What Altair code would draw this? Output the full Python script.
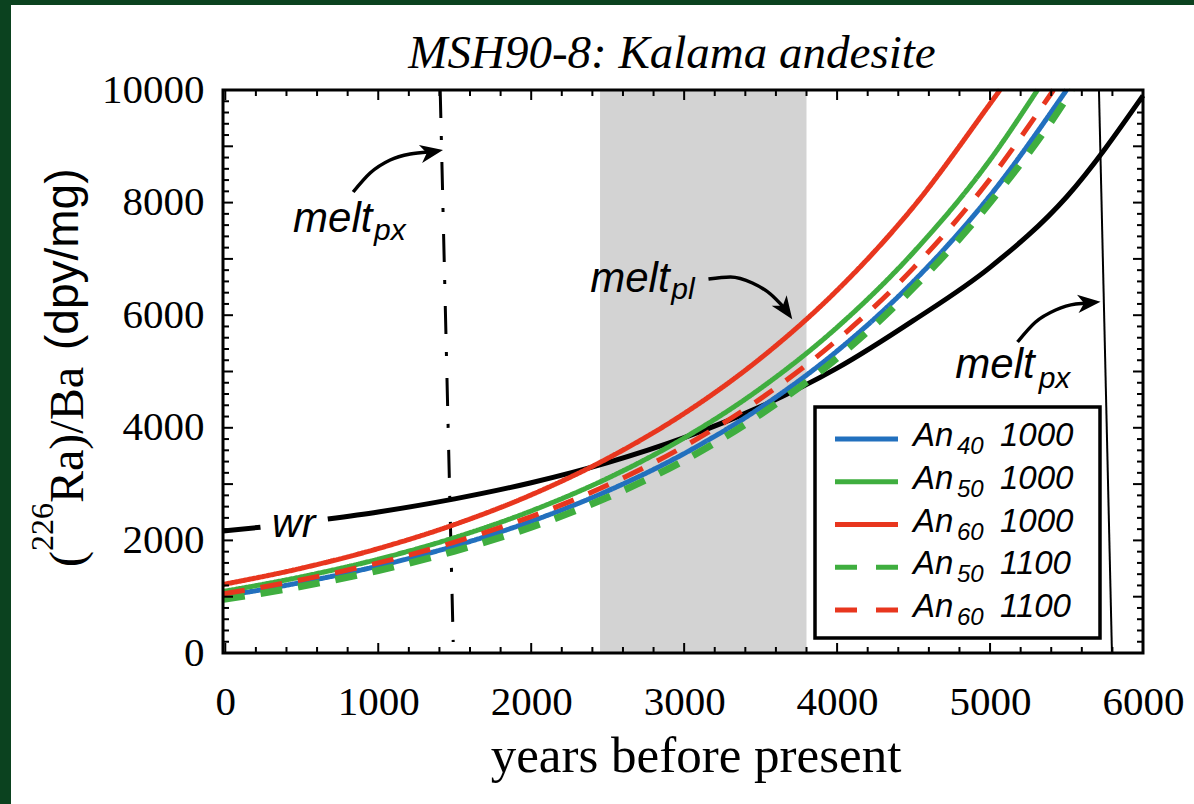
import altair as alt
import pandas as pd

# ---------------- data ----------------
title_text = "MSH90-8: Kalama andesite"
x_title_text = "years before present"
x_tick_values = [0, 1000, 2000, 3000, 4000, 5000, 6000]
y_tick_values = [0, 2000, 4000, 6000, 8000, 10000]

series_names = ["An40 1000", "An50 1000", "An60 1000", "An50 1100", "An60 1100"]
legend_sub = ["40", "50", "60", "50", "60"]
legend_temp = ["1000", "1000", "1000", "1100", "1100"]

an40_1000_x = [-15, 0, 500, 1000, 1500, 2000, 2500, 3000, 3500, 4000, 4500, 5000, 5500]
an40_1000_y = [1014, 1020, 1255, 1545, 1901, 2339, 2879, 3542, 4359, 5364, 6601, 8123, 10000]
an50_1000_x = [-15, 0, 500, 1000, 1500, 2000, 2500, 3000, 3500, 4000, 4500, 5000, 5310]
an50_1000_y = [1093, 1100, 1354, 1666, 2050, 2523, 3104, 3820, 4701, 5785, 7119, 8760, 10000]
an60_1000_x = [-15, 0, 500, 1000, 1500, 2000, 2500, 3000, 3500, 4000, 4500, 5000, 5065]
an60_1000_y = [1217, 1225, 1507, 1855, 2283, 2809, 3457, 4254, 5236, 6442, 7928, 9756, 10000]
an50_1100_x = [-15, 0, 500, 1000, 1500, 2000, 2500, 3000, 3500, 4000, 4500, 5000, 5500, 5535]
an50_1100_y = [954, 960, 1185, 1465, 1810, 2235, 2765, 3420, 4240, 5240, 6490, 8000, 9850, 10000]
an60_1100_x = [-15, 0, 500, 1000, 1500, 2000, 2500, 3000, 3500, 4000, 4500, 5000, 5415]
an60_1100_y = [1050, 1057, 1301, 1601, 1970, 2424, 2983, 3671, 4518, 5559, 6841, 8418, 10000]

wr_left_x = [-15, 230]
wr_left_y = [2165, 2235]
wr_right_x = [670, 1000, 1500, 2000, 2500, 3000, 3500, 4000, 4500, 5000, 5500, 6000]
wr_right_y = [2379, 2506, 2738, 3025, 3382, 3825, 4376, 5059, 5907, 6850, 8100, 9900]

band_start, band_end = 2450, 3800
melt_px_left_x = [1405, 1490]
melt_px_left_y = [10000, 195]
melt_px_right_x = [5712, 5797]
melt_px_right_y = [10000, 0]

arrow1_x = [836, 947, 1078, 1209, 1326]
arrow1_y = [8188, 8526, 8757, 8863, 8899]
arrow2_x = [3159, 3303, 3446, 3564, 3649]
arrow2_y = [6643, 6679, 6572, 6377, 6146]
arrow3_x = [5180, 5298, 5429, 5560, 5658]
arrow3_y = [5524, 5879, 6092, 6199, 6217]
head_x = [1350, 3664, 5648]
head_y = [8899, 6095, 6220]
head_angle = [350, 55, 355]

melt_x = [443, 2386, 4773]
melt_y = [7478, 6412, 4885]
melt_sub = ["px", "pl", "px"]
melt_sub_x = [973, 2916, 5318]
melt_sub_y = [7336, 6288, 4707]
wr_label_x, wr_label_y = 306, 2060

# ---------------- styling ----------------
W, H = 920, 563
PL, PT, PR, PB = 223, 90, 51, 151
SERIF = "Liberation Serif"
SANS = "Liberation Sans"
series_colors = ["#2270be", "#3fae3f", "#e8361e", "#3fae3f", "#e8361e"]
series_dash = [[1, 0], [1, 0], [1, 0], [22, 16], [22, 16]]
series_width = [5, 5, 5, 7, 5]

xs = alt.Scale(domain=[-15, 6000], nice=False, zero=False)
ys = alt.Scale(domain=[0, 10000], nice=False, zero=False)
xaxis = alt.Axis(values=x_tick_values, ticks=False, domain=False, grid=False,
                 labelFont=SERIF, labelFontSize=41, labelPadding=29,
                 labelColor="black", format="d", labelFlush=False, labelOverlap=False)
yaxis = alt.Axis(values=y_tick_values, ticks=False, domain=False, grid=False,
                 labelFont=SERIF, labelFontSize=41, labelPadding=19,
                 labelColor="black", format="d", labelFlush=False, labelOverlap=False)


def X(f="x"):
    return alt.X(f"{f}:Q", scale=xs, axis=xaxis, title=None)


def Y(f="y"):
    return alt.Y(f"{f}:Q", scale=ys, axis=yaxis, title=None)


def line_df(xv, yv):
    return pd.DataFrame({"x": xv, "y": yv})


one = pd.DataFrame({"a": [0]})
layers = []

# dark green edge strips
layers.append(alt.Chart(one).mark_rect(color="#0b421f").encode(
    x=alt.value(-PL), x2=alt.value(-PL + 11), y=alt.value(-PT), y2=alt.value(H + PB)))
layers.append(alt.Chart(one).mark_rect(color="#0b421f").encode(
    x=alt.value(-PL), x2=alt.value(W + PR), y=alt.value(-PT), y2=alt.value(-PT + 5)))

# gray band
band = pd.DataFrame({"x": [band_start], "x2": [band_end]})
layers.append(alt.Chart(band).mark_rect(color="#d3d3d3").encode(
    x=X(), x2="x2:Q", y=alt.value(0), y2=alt.value(H)))

# melt_px vertical lines
layers.append(alt.Chart(line_df(melt_px_left_x, melt_px_left_y)).mark_line(
    color="black", strokeWidth=3, strokeDash=[28, 18, 4, 22]).encode(x=X(), y=Y()))
layers.append(alt.Chart(line_df(melt_px_right_x, melt_px_right_y)).mark_line(
    color="black", strokeWidth=2).encode(x=X(), y=Y()))

# whole rock curve
for xv, yv in [(wr_left_x, wr_left_y), (wr_right_x, wr_right_y)]:
    layers.append(alt.Chart(line_df(xv, yv)).mark_line(
        color="black", strokeWidth=5, interpolate="monotone").encode(x=X(), y=Y()))

# model curves
curves = [(an40_1000_x, an40_1000_y), (an50_1000_x, an50_1000_y), (an60_1000_x, an60_1000_y),
          (an50_1100_x, an50_1100_y), (an60_1100_x, an60_1100_y)]
for i, (xv, yv) in enumerate(curves):
    layers.append(alt.Chart(line_df(xv, yv)).mark_line(
        color=series_colors[i], strokeWidth=series_width[i], strokeDash=series_dash[i],
        interpolate="monotone").encode(x=X(), y=Y()))

# arrows
for xv, yv in [(arrow1_x, arrow1_y), (arrow2_x, arrow2_y), (arrow3_x, arrow3_y)]:
    layers.append(alt.Chart(line_df(xv, yv)).mark_line(
        color="black", strokeWidth=3.5, interpolate="monotone").encode(x=X(), y=Y()))
arrow_shape = "M 1 0 L -1 -0.8 L -0.45 0 L -1 0.8 Z"
for hx, hy, ha in zip(head_x, head_y, head_angle):
    layers.append(alt.Chart(line_df([hx], [hy])).mark_point(
        shape=arrow_shape, size=520, filled=True, color="black", opacity=1, angle=ha).encode(
        x=X(), y=Y()))

# annotations
layers.append(alt.Chart(line_df(melt_x, melt_y).assign(t="melt")).mark_text(
    font=SANS, fontStyle="italic", fontSize=42, align="left", baseline="alphabetic",
    color="black").encode(x=X(), y=Y(), text="t:N"))
layers.append(alt.Chart(line_df(melt_sub_x, melt_sub_y).assign(t=melt_sub)).mark_text(
    font=SANS, fontStyle="italic", fontSize=30, align="left", baseline="alphabetic",
    color="black").encode(x=X(), y=Y(), text="t:N"))
layers.append(alt.Chart(line_df([wr_label_x], [wr_label_y]).assign(t="wr")).mark_text(
    font=SANS, fontStyle="italic", fontSize=41, align="left", baseline="alphabetic",
    color="black").encode(x=X(), y=Y(), text="t:N"))

# inward ticks on all four sides
xt = pd.DataFrame({"x": list(range(0, 6001, 200))})
xt_major = xt[xt["x"] % 1000 == 0]
xt_minor = xt[xt["x"] % 1000 != 0]
yt = pd.DataFrame({"y": list(range(0, 10001, 200))})
yt_major = yt[yt["y"] % 1000 == 0]
yt_minor = yt[yt["y"] % 1000 != 0]
for d, L in [(xt_major, 10), (xt_minor, 6)]:
    for pos in [H - L / 2, L / 2]:
        layers.append(alt.Chart(d).mark_tick(orient="vertical", size=L, thickness=2,
                                             color="black", opacity=1).encode(
            x=X(), y=alt.value(pos)))
for d, L in [(yt_major, 10), (yt_minor, 6)]:
    for pos in [L / 2, W - L / 2]:
        layers.append(alt.Chart(d).mark_tick(orient="horizontal", size=L, thickness=2,
                                             color="black", opacity=1).encode(
            y=Y(), x=alt.value(pos)))

# frame
layers.append(alt.Chart(one).mark_rect(filled=False, stroke="black", strokeWidth=3).encode(
    x=alt.value(0), x2=alt.value(W), y=alt.value(0), y2=alt.value(H)))

# legend (drawn by hand)
LX0, LX1 = 592, 877
LY0, LY1 = 317, 548
layers.append(alt.Chart(one).mark_rect(fill="white", stroke="black", strokeWidth=3.5).encode(
    x=alt.value(LX0), x2=alt.value(LX1), y=alt.value(LY0), y2=alt.value(LY1)))
row_y = [349 + i * 42.75 for i in range(len(series_names))]
for i in range(len(series_names)):
    layers.append(alt.Chart(one).mark_rule(
        color=series_colors[i], strokeWidth=5,
        strokeDash=[22, 19] if series_dash[i][1] else [1, 0]).encode(
        x=alt.value(612), x2=alt.value(675), y=alt.value(row_y[i])))
leg = pd.DataFrame({"sub": legend_sub, "temp": legend_temp,
                    "ty": [r + 7 for r in row_y], "sy": [r + 15 for r in row_y]})
layers.append(alt.Chart(leg).mark_text(font=SANS, fontStyle="italic", fontSize=33, align="left",
                                      baseline="alphabetic", color="black", text="An").encode(
    x=alt.value(690), y=alt.Y("ty:Q", scale=None)))
layers.append(alt.Chart(leg).mark_text(font=SANS, fontStyle="italic", fontSize=24, align="left",
                                      baseline="alphabetic", color="black").encode(
    x=alt.value(734), y=alt.Y("sy:Q", scale=None), text="sub:N"))
layers.append(alt.Chart(leg).mark_text(font=SANS, fontStyle="italic", fontSize=33, align="left",
                                      baseline="alphabetic", color="black").encode(
    x=alt.value(777), y=alt.Y("ty:Q", scale=None), text="temp:N"))

# titles
layers.append(alt.Chart(one).mark_text(font=SERIF, fontStyle="italic", fontSize=47,
                                      align="center", baseline="alphabetic", color="black",
                                      text=title_text).encode(
    x=alt.value(449), y=alt.value(-22)))
layers.append(alt.Chart(one).mark_text(font=SERIF, fontSize=51, align="center",
                                      baseline="alphabetic", color="black",
                                      text=x_title_text).encode(
    x=alt.value(473), y=alt.value(682)))
for txt, fx, fy, fs, fnt in [("(", -140, 477, 48, SERIF), ("226", -170, 461, 32, SERIF),
                             ("Ra)/Ba", -140, 413, 48, SERIF), ("(dpy/mg)", -145, 260, 46, SANS)]:
    layers.append(alt.Chart(one).mark_text(font=fnt, fontSize=fs, align="left",
                                          baseline="alphabetic", angle=270, color="black",
                                          text=txt).encode(
        x=alt.value(fx), y=alt.value(fy)))

chart = alt.layer(*layers).properties(
    width=W, height=H,
    padding={"left": PL, "top": PT, "right": PR, "bottom": PB},
    autosize=alt.AutoSizeParams(type="none"),
    background="white",
).configure_view(stroke=None)

chart.save("out.html", embed_options={"renderer": "svg", "actions": False})
